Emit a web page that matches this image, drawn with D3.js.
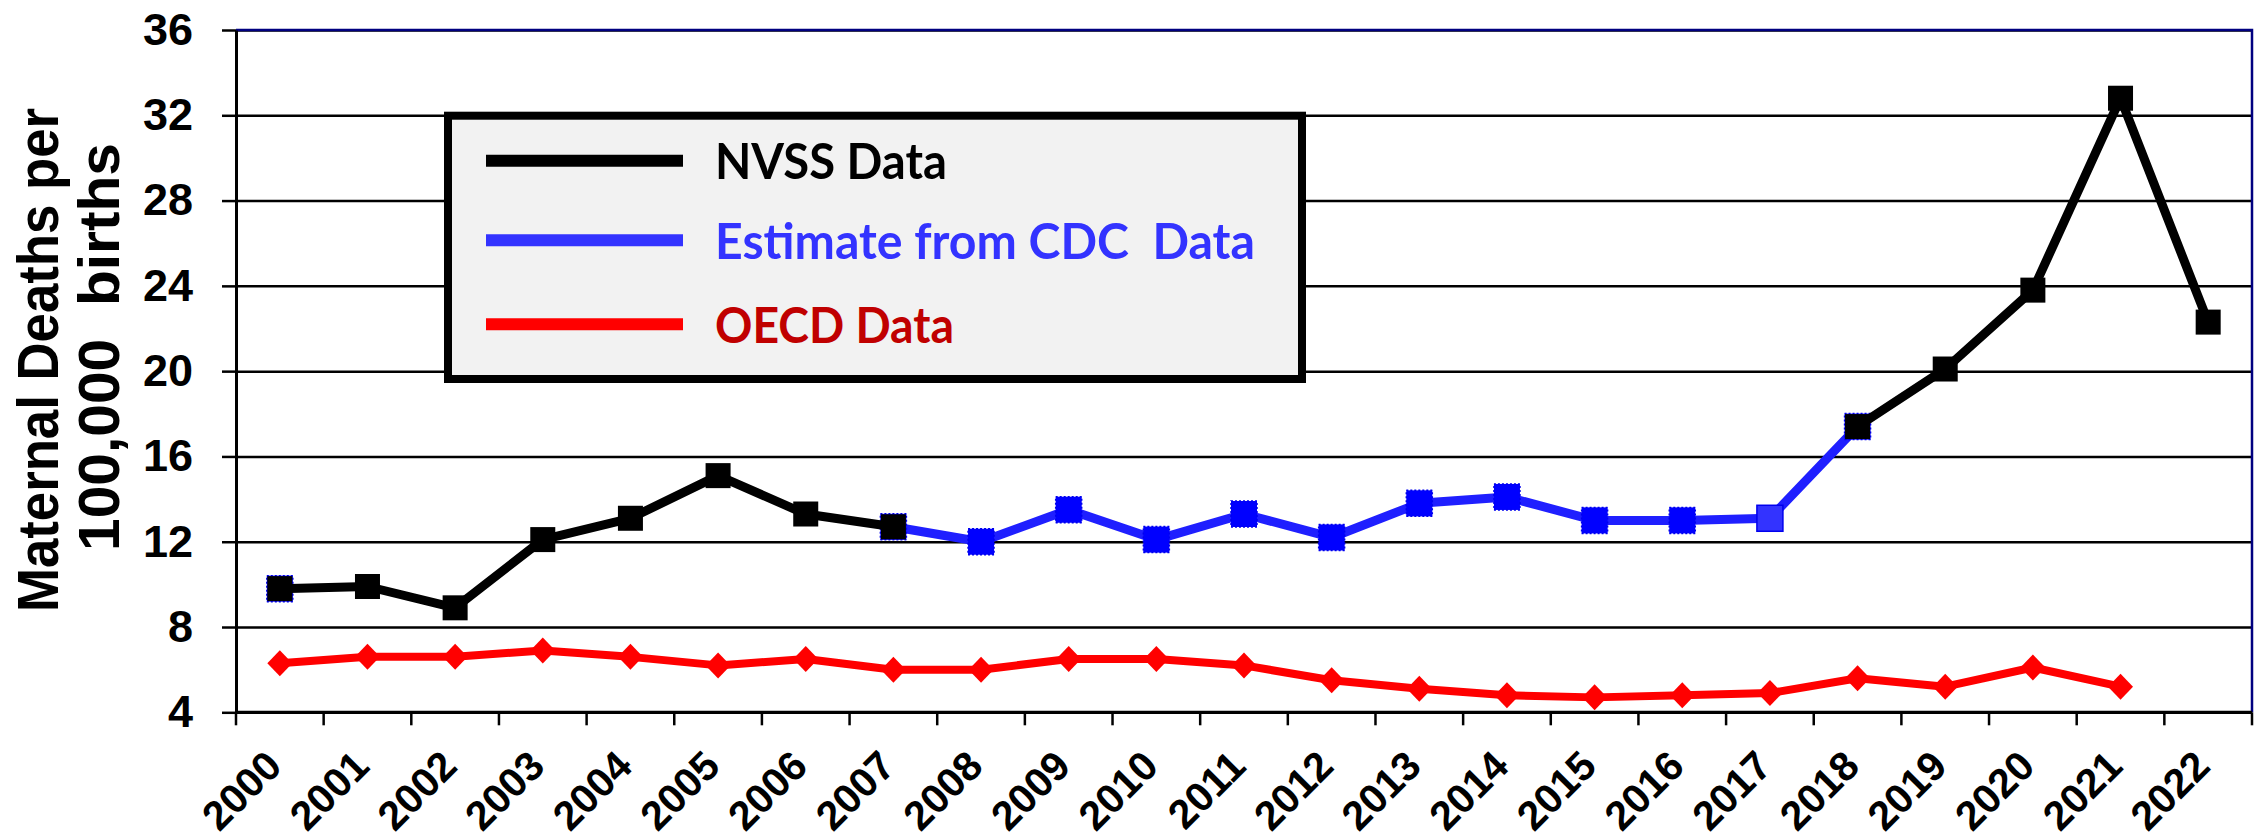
<!DOCTYPE html>
<html>
	<head>
		<meta charset="utf-8">
		<title>Maternal Deaths per 100,000 births</title>
		<style>
			body { margin: 0; background: #fff; }
			#myGraph { display: block; }
			#myGraph text { font-family: "Liberation Sans", Arial, sans-serif; font-weight: bold; }
			#myGraph .legend text { font-family: Lato, "Open Sans", sans-serif; }
		</style>
		<script src="https://cdn.jsdelivr.net/npm/d3@7"></script>
	</head>
	<body>
		<svg id="myGraph" width="2259" height="839"></svg>
		<script>
		// years on the x axis
		var years = ["2000","2001","2002","2003","2004","2005","2006","2007","2008","2009","2010",
			"2011","2012","2013","2014","2015","2016","2017","2018","2019","2020","2021","2022"];
		// NVSS data (null = no NVSS point, CDC estimate used instead)
		var nvss = [9.8, 9.9, 8.9, 12.1, 13.1, 15.1, 13.3, 12.7, null, null, null,
			null, null, null, null, null, null, null, 17.4, 20.1, 23.8, 32.8, 22.3];
		// estimate from CDC data
		var cdc = [9.8, null, null, null, null, null, null, 12.7, 12.0, 13.5, 12.1,
			13.3, 12.2, 13.8, 14.1, 13.0, 13.0, 13.1, 17.4, null, null, null, null];
		// OECD data
		var oecd = [6.3, 6.6, 6.6, 6.9, 6.6, 6.2, 6.5, 6.0, 6.0, 6.5, 6.5,
			6.2, 5.5, 5.1, 4.8, 4.7, 4.8, 4.9, 5.6, 5.2, 6.1, 5.2, null];
		// y axis ticks
		var yTicks = [4, 8, 12, 16, 20, 24, 28, 32, 36];
		var legendNames = ["NVSS Data", "Estimate from CDC  Data", "OECD Data"];

		var svg = d3.select("#myGraph");
		var plotL = 236, plotR = 2252, plotT = 30, plotB = 712.3;

		var x = d3.scaleBand().domain(years).range([plotL, plotR]);
		var y = d3.scaleLinear().domain([4, 36]).range([plotB, plotT]);
		var bw = x.bandwidth();

		// horizontal grid lines
		svg.append("g")
			.attr("transform", "translate(" + plotL + ",0)")
			.call(d3.axisLeft(y).tickValues(yTicks).tickSize(-(plotR - plotL)).tickFormat(""))
			.call(function(g){
				g.select(".domain").remove();
				g.selectAll("line").attr("stroke", "#000").attr("stroke-width", 2.5);
			});

		// plot frame top / right (navy)
		svg.append("path")
			.attr("d", "M" + plotL + "," + y(36) + "H" + plotR + "V" + plotB)
			.attr("fill", "none").attr("stroke", "#000080").attr("stroke-width", 2.5);

		// y axis with ticks and labels
		svg.append("g")
			.attr("transform", "translate(" + plotL + ",0)")
			.call(d3.axisLeft(y).tickValues(yTicks).tickSize(14).tickPadding(29).tickSizeOuter(0))
			.call(function(g){
				g.select(".domain").attr("stroke", "#000").attr("stroke-width", 3);
				g.selectAll("line").attr("stroke", "#000").attr("stroke-width", 2.5);
				g.selectAll("text").attr("font-size", "45px").attr("fill", "#000");
			});

		// x axis line
		svg.append("line")
			.attr("x1", plotL).attr("x2", plotR).attr("y1", plotB).attr("y2", plotB)
			.attr("stroke", "#000").attr("stroke-width", 3);

		// x ticks at the category boundaries
		var bounds = years.map(function(d){ return x(d); }).concat([x.range()[1]]);
		svg.append("g").selectAll("line")
			.data(bounds)
			.enter()
			.append("line")
			.attr("x1", function(d){ return d; })
			.attr("x2", function(d){ return d; })
			.attr("y1", plotB)
			.attr("y2", plotB + 13)
			.attr("stroke", "#000")
			.attr("stroke-width", 2.5);

		// x labels, rotated
		svg.append("g").selectAll("text")
			.data(years)
			.enter()
			.append("text")
			.attr("text-anchor", "end")
			.attr("font-size", "41px")
			.attr("transform", function(d){
				return "translate(" + (x(d) + bw / 2 + 4) + "," + (plotB + 56) + ") rotate(-45)";
			})
			.text(function(d){ return d; });

		// y axis title (two lines)
		var title = svg.append("g").attr("font-size", "58px").attr("text-anchor", "middle");
		title.append("text")
			.attr("transform", "translate(58,360) rotate(-90)")
			.attr("textLength", 504)
			.attr("lengthAdjust", "spacingAndGlyphs")
			.text("Maternal Deaths per");
		title.append("text")
			.attr("transform", "translate(119,347) rotate(-90)")
			.attr("style", "white-space:pre")
			.attr("textLength", 408)
			.attr("lengthAdjust", "spacingAndGlyphs")
			.text("100,000  births");

		var line = d3.line()
			.defined(function(d){ return d.v != null; })
			.x(function(d){ return x(d.year) + bw / 2; })
			.y(function(d){ return y(d.v); });

		function pts(arr){
			return years.map(function(yr, i){ return { year: yr, v: arr[i] }; });
		}

		// OECD series (red line, diamonds)
		var oecdPts = pts(oecd);
		svg.append("path")
			.attr("d", line(oecdPts))
			.attr("fill", "none").attr("stroke", "#ff0000").attr("stroke-width", 8)
			.attr("stroke-linejoin", "round");
		svg.append("g").selectAll("path")
			.data(oecdPts.filter(function(d){ return d.v != null; }))
			.enter()
			.append("path")
			.attr("d", "M0,-13L12.5,0L0,13L-12.5,0Z")
			.attr("transform", function(d){ return "translate(" + (x(d.year) + bw / 2) + "," + y(d.v) + ")"; })
			.attr("fill", "#ff0000");

		// CDC estimate (blue line, squares)
		var cdcPts = pts(cdc);
		svg.append("path")
			.attr("d", line(cdcPts))
			.attr("fill", "none").attr("stroke", "#1f1fff").attr("stroke-width", 9)
			.attr("stroke-linejoin", "round");
		svg.append("g").selectAll("rect")
			.data(cdcPts.filter(function(d){ return d.v != null; }))
			.enter()
			.append("rect")
			.attr("x", function(d){ return x(d.year) + bw / 2 - 13; })
			.attr("y", function(d){ return y(d.v) - 13; })
			.attr("width", 26).attr("height", 26)
			.attr("fill", function(d){ return d.year === "2017" ? "#3333ff" : "#0000ff"; })
			.attr("stroke", "#0000ee").attr("stroke-width", 1.5)
			.attr("stroke-dasharray", function(d){ return d.year === "2017" ? null : "2,2"; });

		// NVSS series (black line, squares) on top
		var nvssPts = pts(nvss);
		svg.append("path")
			.attr("d", line(nvssPts))
			.attr("fill", "none").attr("stroke", "#000").attr("stroke-width", 9)
			.attr("stroke-linejoin", "round");
		svg.append("g").selectAll("rect")
			.data(nvssPts.filter(function(d){ return d.v != null; }))
			.enter()
			.append("rect")
			.attr("x", function(d){ return x(d.year) + bw / 2 - 12.5; })
			.attr("y", function(d){ return y(d.v) - 12.5; })
			.attr("width", 25).attr("height", 25)
			.attr("fill", "#000");

		// legend
		var legend = svg.append("g").attr("class", "legend");
		legend.append("rect")
			.attr("x", 448).attr("y", 115.7).attr("width", 854).attr("height", 263.3)
			.attr("fill", "#f2f2f2").attr("stroke", "#000").attr("stroke-width", 8);
		var legendColors = ["#000000", "#3333ff", "#ff0000"];
		var legendText = ["#000000", "#3333ff", "#c00000"];
		var legendY = [160.7, 240.3, 324.3];
		var legendLen = [232, 540, 239];
		legendNames.forEach(function(name, i){
			legend.append("line")
				.attr("x1", 486).attr("x2", 683)
				.attr("y1", legendY[i]).attr("y2", legendY[i])
				.attr("stroke", legendColors[i]).attr("stroke-width", 12);
			legend.append("text")
				.attr("x", 715).attr("y", legendY[i] + 18.6)
				.attr("font-size", "49px")
				.attr("fill", legendText[i])
				.attr("style", "white-space:pre")
				.attr("textLength", legendLen[i])
				.attr("lengthAdjust", "spacingAndGlyphs")
				.text(name);
		});
		</script>
	</body>
</html>
